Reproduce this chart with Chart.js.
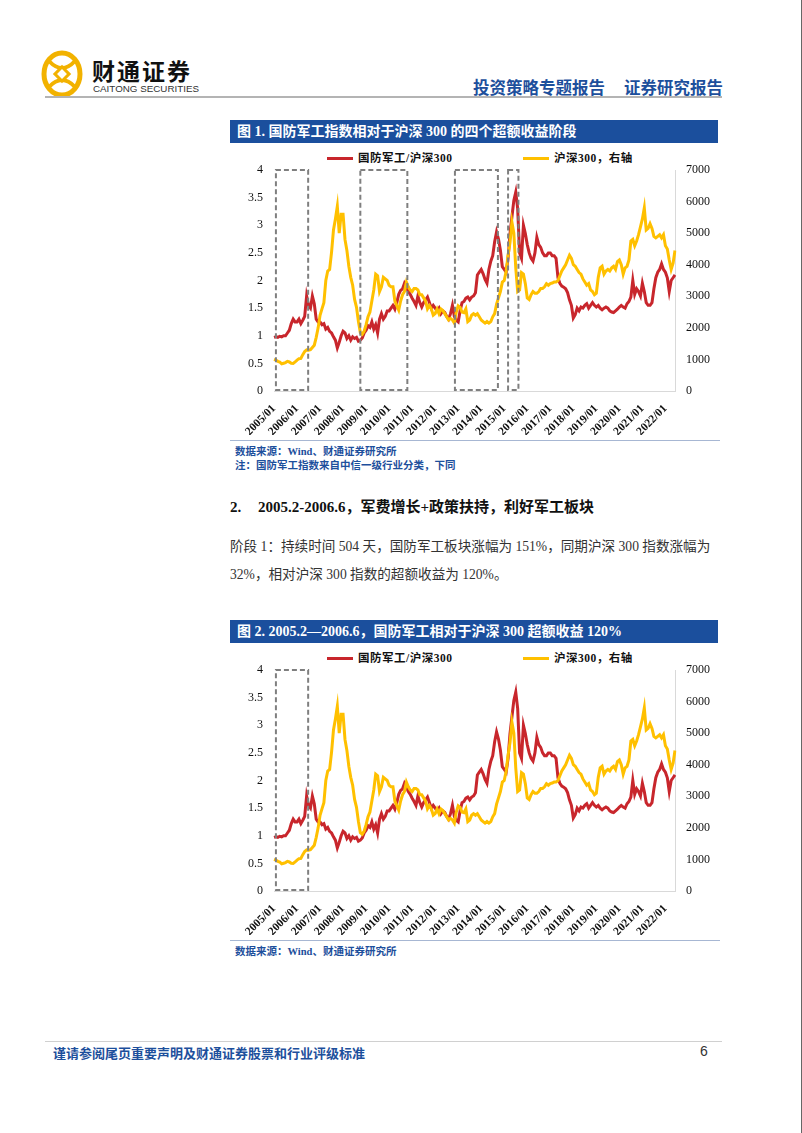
<!DOCTYPE html>
<html>
<head>
<meta charset="utf-8">
<script src="https://cdn.jsdelivr.net/npm/chart.js@4.4.0/dist/chart.umd.min.js"></script>
<style>
  body { margin: 0; width: 802px; height: 1133px; position: relative; background: #fff; overflow: hidden;
         font-family: "Liberation Serif", "Noto Sans CJK SC", serif; }
  .abs { position: absolute; white-space: nowrap; }
  .blue { color: #1d4f9c; }
  .bar { position: absolute; left: 230px; width: 488px; height: 23px; background: #1b4f9d; color: #fff;
         font-weight: bold; font-size: 14px; line-height: 23px; padding-left: 7px; box-sizing: border-box; }
  .legend { position: absolute; height: 14px; font-family: "Liberation Serif", "Noto Sans CJK SC", serif;
            font-weight: bold; font-size: 11.5px; letter-spacing: 0.5px; color: #111; line-height: 14px; }
  .legend i { display: inline-block; width: 26px; height: 3px; vertical-align: middle; margin-right: 5px; position: relative; top: -1px; }
  .sep { position: absolute; left: 230px; width: 490px; height: 1px; background: #a7b7d3; }
  .src { position: absolute; left: 235px; font-size: 10.5px; font-weight: bold; color: #1d4f9c; white-space: nowrap; }
  .h2 { position: absolute; top: 497px; font-size: 15px; font-weight: bold; color: #111; line-height: 20px; white-space: nowrap; }
  .para { position: absolute; left: 230px; font-size: 13.6px; color: #333; line-height: 20px; white-space: nowrap; }
  canvas { position: absolute; }
</style>
</head>
<body>

<!-- header -->
<svg class="abs" style="left:40px;top:50px" width="44" height="48" viewBox="0 0 44 48">
  <ellipse cx="22" cy="24" rx="18" ry="21" fill="none" stroke="#f2b200" stroke-width="5"/>
  <path d="M9 11 Q22 25 35 11 M9 37 Q22 23 35 37" stroke="#f2b200" stroke-width="4" fill="none"/>
  <rect x="17" y="19" width="10" height="10" transform="rotate(45 22 24)" fill="#fff" stroke="#f2b200" stroke-width="3"/>
</svg>
<div class="abs" style="left:92px;top:53px;font-family:'Noto Sans CJK SC';font-weight:bold;font-size:23px;letter-spacing:2px;color:#111">财通证券</div>
<div class="abs" style="left:93px;top:83px;font-family:'Liberation Sans';font-size:9.8px;color:#333">CAITONG SECURITIES</div>
<div class="abs blue" style="left:473px;top:75px;font-family:'Noto Sans CJK SC';font-weight:bold;font-size:16.5px">投资策略专题报告</div>
<div class="abs blue" style="left:624px;top:75px;font-family:'Noto Sans CJK SC';font-weight:bold;font-size:16.5px">证券研究报告</div>
<div class="abs" style="left:45px;top:96px;width:677px;height:2px;background:#b4b4b4"></div>

<!-- figure 1 -->
<div class="bar" style="top:120px">图 1. 国防军工指数相对于沪深 300 的四个超额收益阶段</div>
<div class="legend" style="left:327px;top:151px"><i id="lg1a"></i><span id="lt1a"></span></div>
<div class="legend" style="left:523px;top:151px"><i id="lg1b"></i><span id="lt1b"></span></div>
<canvas id="chart1" width="495" height="290" style="left:230px;top:145px"></canvas>
<div class="sep" style="top:440px"></div>
<div class="src" style="top:443px">数据来源：Wind、财通证券研究所</div>
<div class="src" style="top:457px">注：国防军工指数来自中信一级行业分类，下同</div>

<!-- section text -->
<div class="h2" style="left:230px">2.</div>
<div class="h2" style="left:258px">2005.2-2006.6，军费增长+政策扶持，利好军工板块</div>
<div class="para" style="top:537px">阶段 1：持续时间 504 天，国防军工板块涨幅为 151%，同期沪深 300 指数涨幅为</div>
<div class="para" style="top:565px">32%，相对沪深 300 指数的超额收益为 120%。</div>

<!-- figure 2 -->
<div class="bar" style="top:620px">图 2. 2005.2—2006.6，国防军工相对于沪深 300 超额收益 120%</div>
<div class="legend" style="left:327px;top:651px"><i id="lg2a"></i><span id="lt2a"></span></div>
<div class="legend" style="left:523px;top:651px"><i id="lg2b"></i><span id="lt2b"></span></div>
<canvas id="chart2" width="495" height="290" style="left:230px;top:645px"></canvas>
<div class="sep" style="top:940px"></div>
<div class="src" style="top:943px">数据来源：Wind、财通证券研究所</div>

<!-- footer -->
<div class="abs" style="left:45px;top:1041px;width:677px;height:1px;background:#d0d0d0"></div>
<div class="abs blue" style="left:53px;top:1043px;font-family:'Noto Sans CJK SC';font-weight:bold;font-size:13px">谨请参阅尾页重要声明及财通证券股票和行业评级标准</div>
<div class="abs" style="left:700px;top:1043px;font-family:'Liberation Sans';font-size:14px;color:#333">6</div>
<div class="abs" style="left:801px;top:0;width:1px;height:1133px;background:#666"></div>

<script>
// series names
const seriesNames = ['国防军工/沪深300', '沪深300，右轴'];
const seriesColors = ['#c8262c', '#ffc000'];

// year tick labels on the x axis
const yearLabels = ['2005/01','2006/01','2007/01','2008/01','2009/01','2010/01','2011/01','2012/01','2013/01',
  '2014/01','2015/01','2016/01','2017/01','2018/01','2019/01','2020/01','2021/01','2022/01'];

// monthly categories 2005/01 .. 2022/06
const months = [];
for (let y = 2005; y <= 2022; y++) {
  for (let m = 1; m <= 12; m++) {
    if (y === 2022 && m > 6) break;
    months.push(y + '/' + String(m).padStart(2, '0'));
  }
}

// 国防军工/沪深300 (left axis), one row per year
const relative = [
  0.97, 0.98, 0.97, 0.99, 0.98, 1.00, 1.00, 1.05, 1.10, 1.22, 1.30, 1.25,
  1.25, 1.30, 1.22, 1.28, 1.35, 1.72, 1.55, 1.50, 1.72, 1.58, 1.30, 1.25,
  1.25, 1.20, 1.22, 1.12, 1.15, 1.08, 1.05, 0.98, 0.92, 0.78, 0.88, 1.00,
  1.08, 1.05, 0.95, 1.00, 0.92, 0.98, 0.95, 0.97, 0.90, 0.92, 0.96, 1.05,
  1.10, 1.18, 1.15, 1.25, 1.12, 1.20, 1.05, 1.30, 1.40, 1.30, 1.35, 1.45,
  1.45, 1.50, 1.55, 1.48, 1.60, 1.75, 1.82, 1.85, 1.95, 1.88, 1.80, 1.75,
  1.68, 1.62, 1.55, 1.72, 1.60, 1.52, 1.60, 1.65, 1.70, 1.60, 1.50, 1.55,
  1.50, 1.45, 1.50, 1.40, 1.45, 1.42, 1.35, 1.30, 1.40, 1.55, 1.35, 1.28,
  1.25, 1.45, 1.60, 1.62, 1.68, 1.70, 1.65, 1.70, 1.72, 1.78, 2.10, 2.15,
  2.20, 2.12, 2.02, 1.95, 2.20, 2.35, 2.45, 2.70, 2.88, 2.75, 2.55, 2.25,
  2.20, 2.15, 2.40, 2.85, 3.15, 3.45, 3.60, 3.30, 2.50, 2.40, 3.00, 2.85,
  2.65, 2.50, 2.40, 2.35, 2.50, 2.78, 2.65, 2.60, 2.50, 2.45, 2.45, 2.50,
  2.50, 2.45, 2.45, 2.40, 2.05, 1.95, 1.90, 1.88, 1.85, 1.78, 1.65, 1.55,
  1.32, 1.38, 1.50, 1.45, 1.52, 1.50, 1.55, 1.58, 1.50, 1.55, 1.60, 1.55,
  1.52, 1.55, 1.50, 1.47, 1.50, 1.52, 1.50, 1.45, 1.43, 1.42, 1.45, 1.48,
  1.52, 1.55, 1.52, 1.50, 1.58, 1.62, 1.70, 2.00, 1.75, 1.85, 1.80, 1.72,
  1.95, 1.80, 1.60, 1.55, 1.55, 1.60, 1.85, 2.05, 2.15, 2.20, 2.30, 2.20,
  2.15, 2.05, 1.80, 2.00, 2.05, 2.10
];

// 沪深300 (right axis)
const hs300 = [
  1000,  980,  940,  920,  860,  880,  900,  940,  920,  880,  870,  920,
   980, 1020, 1030, 1150, 1250, 1300, 1290, 1310, 1380, 1450, 1700, 2000,
  2400, 2600, 2800, 3500, 3800, 3850, 4400, 5100, 5450, 5850, 5000, 5600,
  5600, 4800, 4450, 3950, 3600, 3350, 2900, 2650, 2200, 1850, 1800, 1900,
  2100, 2350, 2500, 2850, 3200, 3700, 3650, 3150, 3300, 3600, 3550, 3500,
  3350, 3300, 3300, 2850, 2700, 2560, 2850, 3050, 3150, 3450, 3300, 3200,
  3150, 3250, 3250, 3200, 3050, 3050, 2950, 2850, 2600, 2700, 2600, 2400,
  2450, 2600, 2450, 2600, 2550, 2450, 2350, 2250, 2300, 2250, 2150, 2500,
  2700, 2650, 2500, 2480, 2600, 2200, 2250, 2400, 2450, 2400, 2450, 2350,
  2250, 2200, 2150, 2200, 2150, 2200, 2350, 2450, 2750, 2950, 3150, 3450,
  3500, 3800, 4300, 4700, 5350, 5000, 3900, 3150, 3200, 3750, 3700, 3400,
  2950, 2900, 3050, 3150, 3100, 3100, 3150, 3250, 3250, 3300, 3400, 3350,
  3400, 3420, 3450, 3450, 3500, 3650, 3800, 3900, 4000, 4150, 4300, 4200,
  4000, 3950, 3850, 3750, 3700, 3550, 3450, 3350, 3400, 3200, 3150, 3050,
  3100, 3600, 3900, 3950, 3700, 3800, 3850, 3800, 3900, 3950, 3850, 4100,
  4150, 4000, 3700, 3900, 3950, 4150, 4750, 4800, 4600, 4750, 4950, 5200,
  5450, 5800, 5100, 5150, 5300, 5150, 4900, 4850, 4900, 4950, 4850, 4950,
  4600, 4500, 4150, 3850, 4050, 4450
];

// excess-return stages as month indices [start, end]
const stagesAll = [[1, 17.8], [45, 69.5], [94.3, 116.7], [122, 127.4]];
const stagesFirst = [[1, 17.8]];

const stageBoxes = {
  id: 'stageBoxes',
  afterDatasetsDraw(chart, args, opts) {
    const { ctx, scales } = chart;
    const x = scales.x, y = scales.y;
    ctx.save();
    ctx.setLineDash([5, 3]);
    ctx.strokeStyle = '#7f7f7f';
    ctx.lineWidth = 2;
    (opts.stages || []).forEach(([a, b]) => {
      const x0 = x.getPixelForValue(a), x1 = x.getPixelForValue(b);
      const y0 = y.getPixelForValue(4), y1 = y.getPixelForValue(0.02);
      ctx.strokeRect(x0, y0, x1 - x0, y1 - y0);
    });
    ctx.restore();
  }
};

const tickFont = { family: 'Liberation Serif', size: 12 };

function makeChart(id, stages) {
  return new Chart(document.getElementById(id), {
    type: 'line',
    data: {
      labels: months,
      datasets: [
        { label: seriesNames[0], data: relative, yAxisID: 'y', borderColor: seriesColors[0],
          backgroundColor: seriesColors[0], borderWidth: 3, pointRadius: 0, order: 1 },
        { label: seriesNames[1], data: hs300, yAxisID: 'y1', borderColor: seriesColors[1],
          backgroundColor: seriesColors[1], borderWidth: 3, pointRadius: 0, order: 0 }
      ]
    },
    options: {
      responsive: false,
      animation: false,
      layout: { padding: { top: 25 } },
      plugins: { legend: { display: false }, tooltip: { enabled: false }, stageBoxes: { stages: stages } },
      scales: {
        x: {
          grid: { display: false },
          border: { color: '#d9d9d9' },
          ticks: { autoSkip: false, minRotation: 45, maxRotation: 45, color: '#111',
                   font: { family: 'Liberation Serif', size: 11.5, weight: 'bold' } },
          afterBuildTicks: s => { s.ticks = s.ticks.filter(t => yearLabels.includes(months[t.value])); },
          afterFit: s => { s.height = 44; }
        },
        y: {
          position: 'left', min: 0, max: 4,
          grid: { display: false },
          border: { display: false },
          ticks: { stepSize: 0.5, color: '#111', font: tickFont, callback: v => String(v) },
          afterFit: s => { s.width = 44; }
        },
        y1: {
          position: 'right', min: 0, max: 7000,
          grid: { display: false },
          border: { color: '#d9d9d9' },
          ticks: { stepSize: 1000, color: '#111', font: tickFont, callback: v => String(v) },
          afterFit: s => { s.width = 50; }
        }
      }
    },
    plugins: [stageBoxes]
  });
}

// html legends
['1', '2'].forEach(n => {
  document.getElementById('lg' + n + 'a').style.background = seriesColors[0];
  document.getElementById('lg' + n + 'b').style.background = seriesColors[1];
  document.getElementById('lt' + n + 'a').textContent = seriesNames[0];
  document.getElementById('lt' + n + 'b').textContent = seriesNames[1];
});

makeChart('chart1', stagesAll);
makeChart('chart2', stagesFirst);
</script>
</body>
</html>
